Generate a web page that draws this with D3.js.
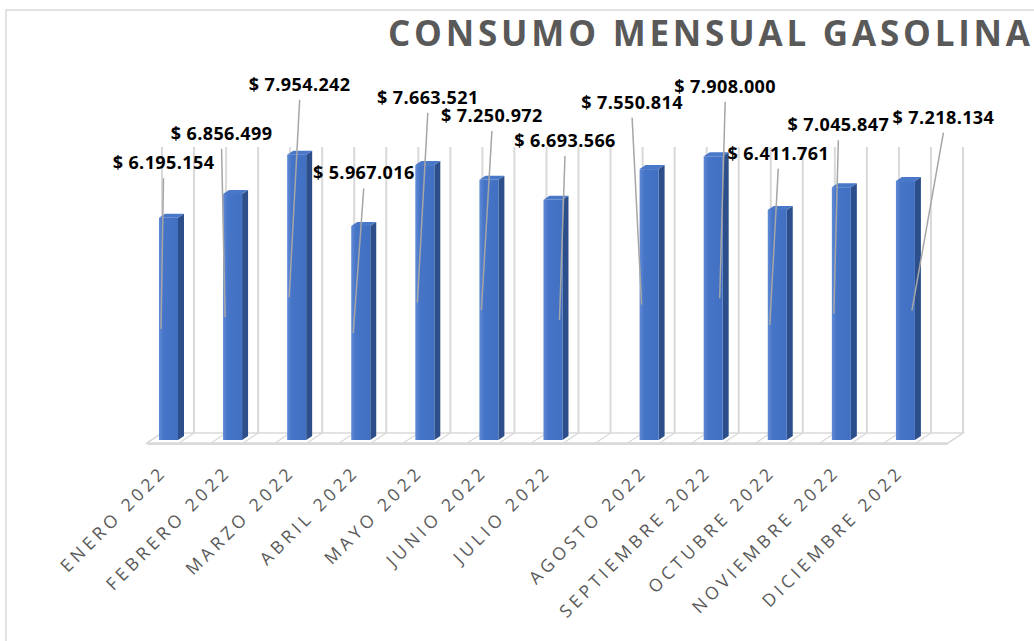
<!DOCTYPE html>
<html>
<head>
<meta charset="utf-8">
<script src="https://cdn.jsdelivr.net/npm/d3@7"></script>
<style>
  html, body { margin: 0; padding: 0; background: #fff; }
  svg { display: block; }
</style>
</head>
<body>
<div id="chart"></div>
<script>
// Monthly data
const months = ["ENERO 2022", "FEBRERO 2022", "MARZO 2022", "ABRIL 2022", "MAYO 2022", "JUNIO 2022",
                "JULIO 2022", "AGOSTO 2022", "SEPTIEMBRE 2022", "OCTUBRE 2022", "NOVIEMBRE 2022", "DICIEMBRE 2022"];
const consumo = [6195154, 6856499, 7954242, 5967016, 7663521, 7250972,
                 6693566, 7550814, 7908000, 6411761, 7045847, 7218134];
const title = "CONSUMO MENSUAL GASOLINA";

// manual nudges of the data labels (as dragged in the original)
const labelNudge = [-8, -14, 0, 0, 0, 0, 9, -20, 9, -2, -6, 35];

const W = 1034, H = 641;
const floorY = 440;          // bar base
const wallY = 433;           // back wall bottom
const wallTop = 147;
const barW = 19;
const depth = {dx: 6, dy: -4};     // bar 3d depth
const floorDepth = {dx: 15, dy: -10};

const svg = d3.select("#chart").append("svg")
    .attr("width", W)
    .attr("height", H);

// Gradients
const defs = svg.append("defs");
const gFront = defs.append("linearGradient").attr("id", "front").attr("x1", 0).attr("x2", 1);
gFront.append("stop").attr("offset", "0%").attr("stop-color", "#5f8ad6");
gFront.append("stop").attr("offset", "25%").attr("stop-color", "#4674c6");
gFront.append("stop").attr("offset", "100%").attr("stop-color", "#4170c2");

// Chart border
svg.append("rect")
    .attr("x", 6).attr("y", 10)
    .attr("width", W + 20).attr("height", H + 20)
    .attr("fill", "none")
    .attr("stroke", "#d9d9d9")
    .attr("stroke-width", 1.5);

// Scales: each month takes two half-slots on the back wall, with an extra half-slot gap after JULIO
const slot = i => i < 7 ? 2 * i : 2 * i + 1;
const x = d3.scaleLinear().domain([0, 25]).range([162, 963]);
const y = d3.scaleLinear().domain([0, 8e6]).range([floorY, 153]);

const fmt = d3.formatLocale({decimal: ",", thousands: ".", grouping: [3], currency: ["$ ", ""]}).format("$,.0f");

// Title
svg.append("text")
    .attr("x", 388)
    .attr("y", 46)
    .attr("textLength", 642)
    .attr("lengthAdjust", "spacing")
    .style("font-family", "'Open Sans', sans-serif")
    .style("font-weight", "bold")
    .style("font-size", "35px")
    .attr("fill", "#595959")
    .text(title);

// Back wall gridlines
const halfSlots = d3.range(26);
svg.append("g").selectAll("line")
    .data(halfSlots)
    .enter().append("line")
    .attr("x1", d => x(d)).attr("x2", d => x(d))
    .attr("y1", wallTop).attr("y2", wallY)
    .attr("stroke", "#d9d9d9")
    .attr("stroke-width", 2);

// Floor
const floor = svg.append("g");
floor.append("polygon")
    .attr("points", [
        [x(0) - floorDepth.dx, wallY - floorDepth.dy],
        [x(25) - floorDepth.dx, wallY - floorDepth.dy],
        [x(25), wallY],
        [x(0), wallY]
    ].map(p => p.join(",")).join(" "))
    .attr("fill", "#fff")
    .attr("stroke", "#d9d9d9")
    .attr("stroke-width", 1.5);
floor.selectAll("line.diag")
    .data(halfSlots)
    .enter().append("line")
    .attr("class", "diag")
    .attr("x1", d => x(d)).attr("y1", wallY)
    .attr("x2", d => x(d) - floorDepth.dx).attr("y2", wallY - floorDepth.dy)
    .attr("stroke", "#d9d9d9")
    .attr("stroke-width", 1.2);
floor.append("line")
    .attr("x1", x(0) - floorDepth.dx).attr("x2", x(25) - floorDepth.dx)
    .attr("y1", wallY - floorDepth.dy + 1).attr("y2", wallY - floorDepth.dy + 1)
    .attr("stroke", "#d9d9d9")
    .attr("stroke-width", 2);

// Bars
const data = consumo.map((v, i) => ({month: months[i], value: v, i: i, s: slot(i)}));
const bars = svg.append("g").selectAll("g")
    .data(data)
    .enter().append("g");

bars.append("polygon")   // side
    .attr("points", d => {
        const x0 = x(d.s) - 3 + barW, t = y(d.value);
        return [[x0, t], [x0 + depth.dx, t + depth.dy], [x0 + depth.dx, floorY + depth.dy], [x0, floorY]]
            .map(p => p.join(",")).join(" ");
    })
    .attr("fill", "#2c4f8c");

bars.append("polygon")   // top
    .attr("points", d => {
        const x0 = x(d.s) - 3, t = y(d.value);
        return [[x0, t], [x0 + depth.dx, t + depth.dy], [x0 + barW + depth.dx, t + depth.dy], [x0 + barW, t]]
            .map(p => p.join(",")).join(" ");
    })
    .attr("fill", "#4a78c8");

bars.append("rect")      // front
    .attr("x", d => x(d.s) - 3)
    .attr("y", d => y(d.value))
    .attr("width", barW)
    .attr("height", d => floorY - y(d.value))
    .attr("fill", "url(#front)");

// Data labels (sit higher than the bars, as in the 3d view) with leader lines
const labelY = v => floorY - 1.245 * (floorY - y(v));
const labelX = d => x(d.s) + 9.5 + labelNudge[d.i];

svg.append("g").selectAll("line")
    .data(data)
    .enter().append("line")
    .attr("x1", d => labelX(d))
    .attr("y1", d => labelY(d.value) + 15)
    .attr("x2", d => labelNudge[d.i] > 3 ? x(d.s) + 13 : x(d.s) - 1)
    .attr("y2", d => (floorY + y(d.value)) / 2)
    .attr("stroke", "#a6a6a6")
    .attr("stroke-width", 1.5);

svg.append("g").selectAll("text")
    .data(data)
    .enter().append("text")
    .attr("x", d => labelX(d))
    .attr("y", d => labelY(d.value) + 6)
    .attr("text-anchor", "middle")
    .style("font-family", "'Open Sans', sans-serif")
    .style("font-weight", "bold")
    .style("font-size", "18px")
    .style("letter-spacing", "0.4px")
    .attr("fill", "#000")
    .text(d => fmt(d.value));

// Category labels
svg.append("g").selectAll("text")
    .data(data)
    .enter().append("text")
    .attr("transform", d => `translate(${x(d.s) + 6}, 473) rotate(-45)`)
    .attr("text-anchor", "end")
    .style("font-family", "'Open Sans', sans-serif")
    .style("font-size", "17.5px")
    .style("letter-spacing", "4px")
    .attr("fill", "#595959")
    .text(d => d.month);
</script>
</body>
</html>
